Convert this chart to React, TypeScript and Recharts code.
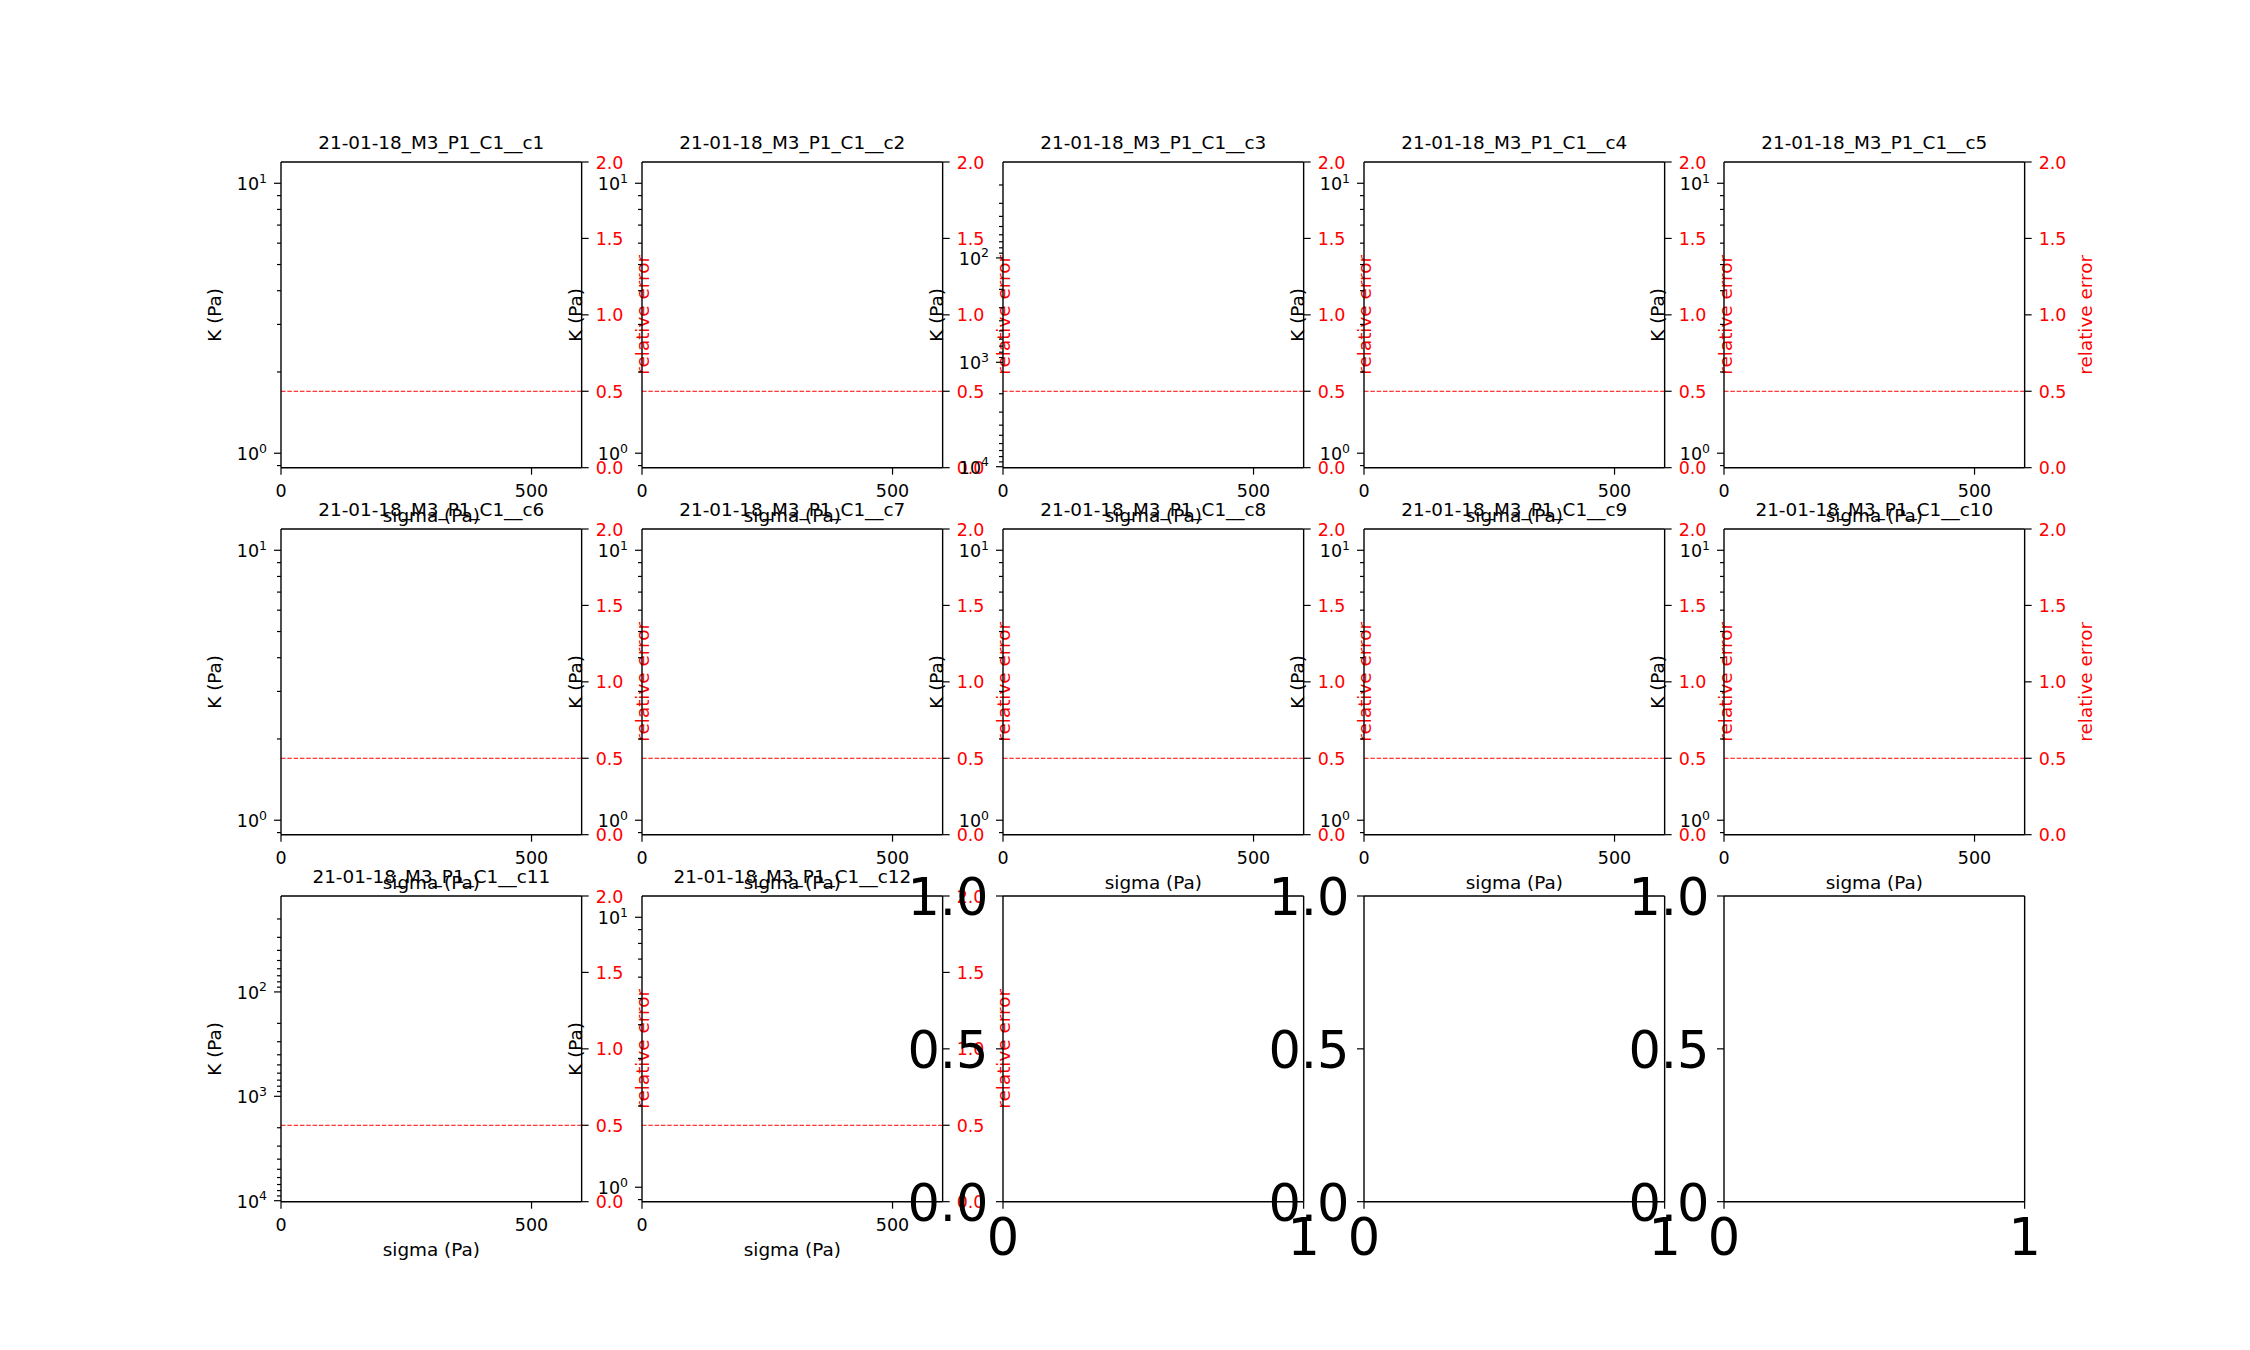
import React from 'react';
import { LineChart, ReferenceLine, XAxis, YAxis } from 'recharts';

// ─── Data ────────────────────────────────────────────────────────────

const RUN_ID = '21-01-18_M3_P1_C1__';
const CELLS = ['c1', 'c2', 'c3', 'c4', 'c5', 'c6', 'c7', 'c8', 'c9', 'c10', 'c11', 'c12'];
const WIDE_CELLS = ['c3', 'c11'];
const BLANK_SLOTS = [12, 13, 14];

const SIGMA_DOMAIN: [number, number] = [0, 600];
const SIGMA_TICKS = [0, 500];

const K_DOMAIN: [number, number] = [0.884, 11.99];
const K_MAJOR = [1, 10];
const K_MINOR = [0.9, 2, 3, 4, 5, 6, 7, 8, 9];

const K_WIDE_DOMAIN: [number, number] = [12.05, 10220];
const K_WIDE_MAJOR = [100, 1000, 10000];
const K_WIDE_MINOR = [
  20, 30, 40, 50, 60, 70, 80, 90,
  200, 300, 400, 500, 600, 700, 800, 900,
  2000, 3000, 4000, 5000, 6000, 7000, 8000, 9000,
];

const ERR_DOMAIN: [number, number] = [0, 2];
const ERR_TICKS = [0, 0.5, 1, 1.5, 2];
const ERR_THRESHOLD = 0.5;

const BLANK_DOMAIN: [number, number] = [0, 1];
const BLANK_Y_TICKS = [0, 0.5, 1];
const BLANK_X_TICKS = [0, 1];

// ─── Layout ──────────────────────────────────────────────────────────

const FONT = '"DejaVu Sans", sans-serif';
const RED = '#ff0000';
const LEFT0 = 281.25;
const TOP0 = 162;
const COL_STEP = 360.78;
const ROW_STEP = 366.8;
const PW = 300.65;
const PH = 305.7;
const PAD = 110;
const AXW = 60;
const AXH = 40;
const TICK_FS = 17.5;
const LABEL_FS = 18.4;
const BIG_FS = 51;

// ─── Ticks ───────────────────────────────────────────────────────────

const LogTick = (props: any) => {
  const { x, y, payload, majors } = props;
  const v = payload.value;
  const major = majors.includes(v);
  const exp = Math.round(Math.log10(v));
  return (
    <g>
      <line x1={x} x2={x - (major ? 7 : 4)} y1={y} y2={y} stroke="#000" strokeWidth={1.2} />
      {major && (
        <text x={x - 14} y={y + 7} textAnchor="end" fontSize={TICK_FS} fill="#000" fontFamily={FONT}>
          10
          <tspan dy={-7.5} fontSize={12.5}>{exp}</tspan>
        </text>
      )}
    </g>
  );
};

const ErrTick = (props: any) => {
  const { x, y, payload } = props;
  return (
    <g>
      <line x1={x} x2={x + 7} y1={y} y2={y} stroke="#000" strokeWidth={1.2} />
      <text x={x + 14} y={y + 6.6} textAnchor="start" fontSize={TICK_FS} fill={RED} fontFamily={FONT}>
        {Number(payload.value).toFixed(1)}
      </text>
    </g>
  );
};

const SigmaTick = (props: any) => {
  const { x, y, payload } = props;
  return (
    <g>
      <line x1={x} x2={x} y1={y} y2={y + 7} stroke="#000" strokeWidth={1.2} />
      <text x={x} y={y + 29} textAnchor="middle" fontSize={TICK_FS} fill="#000" fontFamily={FONT}>
        {payload.value}
      </text>
    </g>
  );
};

const BigYTick = (props: any) => {
  const { x, y, payload } = props;
  return (
    <g>
      <line x1={x} x2={x - 7} y1={y} y2={y} stroke="#000" strokeWidth={1.2} />
      <text x={x - 14.5} y={y + 0.37 * BIG_FS} textAnchor="end" fontSize={BIG_FS} fill="#000" fontFamily={FONT}>
        {Number(payload.value).toFixed(1)}
      </text>
    </g>
  );
};

const BigXTick = (props: any) => {
  const { x, y, payload } = props;
  return (
    <g>
      <line x1={x} x2={x} y1={y} y2={y + 7} stroke="#000" strokeWidth={1.2} />
      <text x={x} y={y + 53.3} textAnchor="middle" fontSize={BIG_FS} fill="#000" fontFamily={FONT}>
        {payload.value}
      </text>
    </g>
  );
};

// ─── Labels (plot box sits at PAD, PAD inside every chart) ──────────

const Title = ({ text }: { text: string }) => (
  <text x={PAD + PW / 2} y={PAD - 13} textAnchor="middle" fontSize={LABEL_FS} fill="#000" fontFamily={FONT}>
    {text}
  </text>
);

const XTitle = () => (
  <text x={PAD + PW / 2} y={PAD + PH + 54.5} textAnchor="middle" fontSize={LABEL_FS} fill="#000" fontFamily={FONT}>
    sigma (Pa)
  </text>
);

const VTitle = ({ cx, text, color }: { cx: number; text: string; color: string }) => {
  const cy = PAD + PH / 2;
  return (
    <text
      x={cx}
      y={cy}
      transform={`rotate(-90, ${cx}, ${cy})`}
      textAnchor="middle"
      dominantBaseline="central"
      fontSize={LABEL_FS}
      fill={color}
      fontFamily={FONT}
    >
      {text}
    </text>
  );
};

// ─── Panels ──────────────────────────────────────────────────────────

const spine = { stroke: '#000', strokeWidth: 1.4 };

function slotPos(slot: number) {
  const row = Math.floor(slot / 5);
  const col = slot % 5;
  return { left: LEFT0 + col * COL_STEP - PAD, top: TOP0 + row * ROW_STEP - PAD };
}

const CellPanel = ({ cell, slot }: { cell: string; slot: number }) => {
  const wide = WIDE_CELLS.includes(cell);
  const majors = wide ? K_WIDE_MAJOR : K_MAJOR;
  const ticks = wide ? [...K_WIDE_MAJOR, ...K_WIDE_MINOR] : [...K_MAJOR, ...K_MINOR];
  const pos = slotPos(slot);
  return (
    <div style={{ position: 'absolute', left: pos.left, top: pos.top }}>
      <LineChart
        width={PW + 2 * PAD}
        height={PH + 2 * PAD}
        data={[]}
        margin={{ top: PAD, right: PAD - AXW, bottom: PAD - AXH, left: PAD - AXW }}
        style={{ overflow: 'visible' }}
      >
        <XAxis
          type="number"
          dataKey="sigma"
          domain={SIGMA_DOMAIN}
          ticks={SIGMA_TICKS}
          allowDataOverflow
          interval={0}
          height={AXH}
          tickSize={0}
          tickMargin={0}
          tickLine={false}
          axisLine={spine}
          tick={<SigmaTick />}
          label={{ content: () => <XTitle /> }}
        />
        <YAxis
          yAxisId="k"
          scale="log"
          type="number"
          domain={wide ? K_WIDE_DOMAIN : K_DOMAIN}
          reversed={wide}
          allowDataOverflow
          ticks={ticks}
          interval={0}
          width={AXW}
          tickSize={0}
          tickMargin={0}
          tickLine={false}
          axisLine={spine}
          tick={<LogTick majors={majors} />}
          label={{ content: () => <VTitle cx={PAD - 67} text="K (Pa)" color="#000" /> }}
        />
        <YAxis
          yAxisId="err"
          orientation="right"
          type="number"
          domain={ERR_DOMAIN}
          allowDataOverflow
          ticks={ERR_TICKS}
          interval={0}
          width={AXW}
          tickSize={0}
          tickMargin={0}
          tickLine={false}
          axisLine={spine}
          tick={<ErrTick />}
          label={{ content: () => <VTitle cx={PAD + PW + 61} text="relative error" color={RED} /> }}
        />
        <ReferenceLine
          yAxisId="err"
          y={ERR_THRESHOLD}
          stroke={RED}
          strokeWidth={1}
          strokeDasharray="4.5 1.8"
        />
        <ReferenceLine
          yAxisId="err"
          y={ERR_DOMAIN[1]}
          stroke="#000"
          strokeWidth={1.4}
          label={{ content: () => <Title text={RUN_ID + cell} /> }}
        />
      </LineChart>
    </div>
  );
};

const BlankPanel = ({ slot }: { slot: number }) => {
  const pos = slotPos(slot);
  return (
    <div style={{ position: 'absolute', left: pos.left, top: pos.top }}>
      <LineChart
        width={PW + 2 * PAD}
        height={PH + 2 * PAD}
        data={[]}
        margin={{ top: PAD, right: PAD, bottom: PAD - AXH, left: PAD - AXW }}
        style={{ overflow: 'visible' }}
      >
        <XAxis
          type="number"
          dataKey="u"
          domain={BLANK_DOMAIN}
          ticks={BLANK_X_TICKS}
          allowDataOverflow
          interval={0}
          height={AXH}
          tickSize={0}
          tickMargin={0}
          tickLine={false}
          axisLine={spine}
          tick={<BigXTick />}
        />
        <YAxis
          type="number"
          dataKey="v"
          domain={BLANK_DOMAIN}
          ticks={BLANK_Y_TICKS}
          allowDataOverflow
          interval={0}
          width={AXW}
          tickSize={0}
          tickMargin={0}
          tickLine={false}
          axisLine={spine}
          tick={<BigYTick />}
        />
        <ReferenceLine y={BLANK_DOMAIN[1]} stroke="#000" strokeWidth={1.4} />
        <ReferenceLine x={BLANK_DOMAIN[1]} stroke="#000" strokeWidth={1.4} />
      </LineChart>
    </div>
  );
};

export default function App() {
  return (
    <div
      style={{
        position: 'absolute',
        left: 0,
        top: 0,
        width: 2250,
        height: 1350,
        background: '#fff',
        overflow: 'hidden',
      }}
    >
      {CELLS.map((cell, i) => (
        <CellPanel key={cell} cell={cell} slot={i} />
      ))}
      {BLANK_SLOTS.map((slot) => (
        <BlankPanel key={slot} slot={slot} />
      ))}
    </div>
  );
}
